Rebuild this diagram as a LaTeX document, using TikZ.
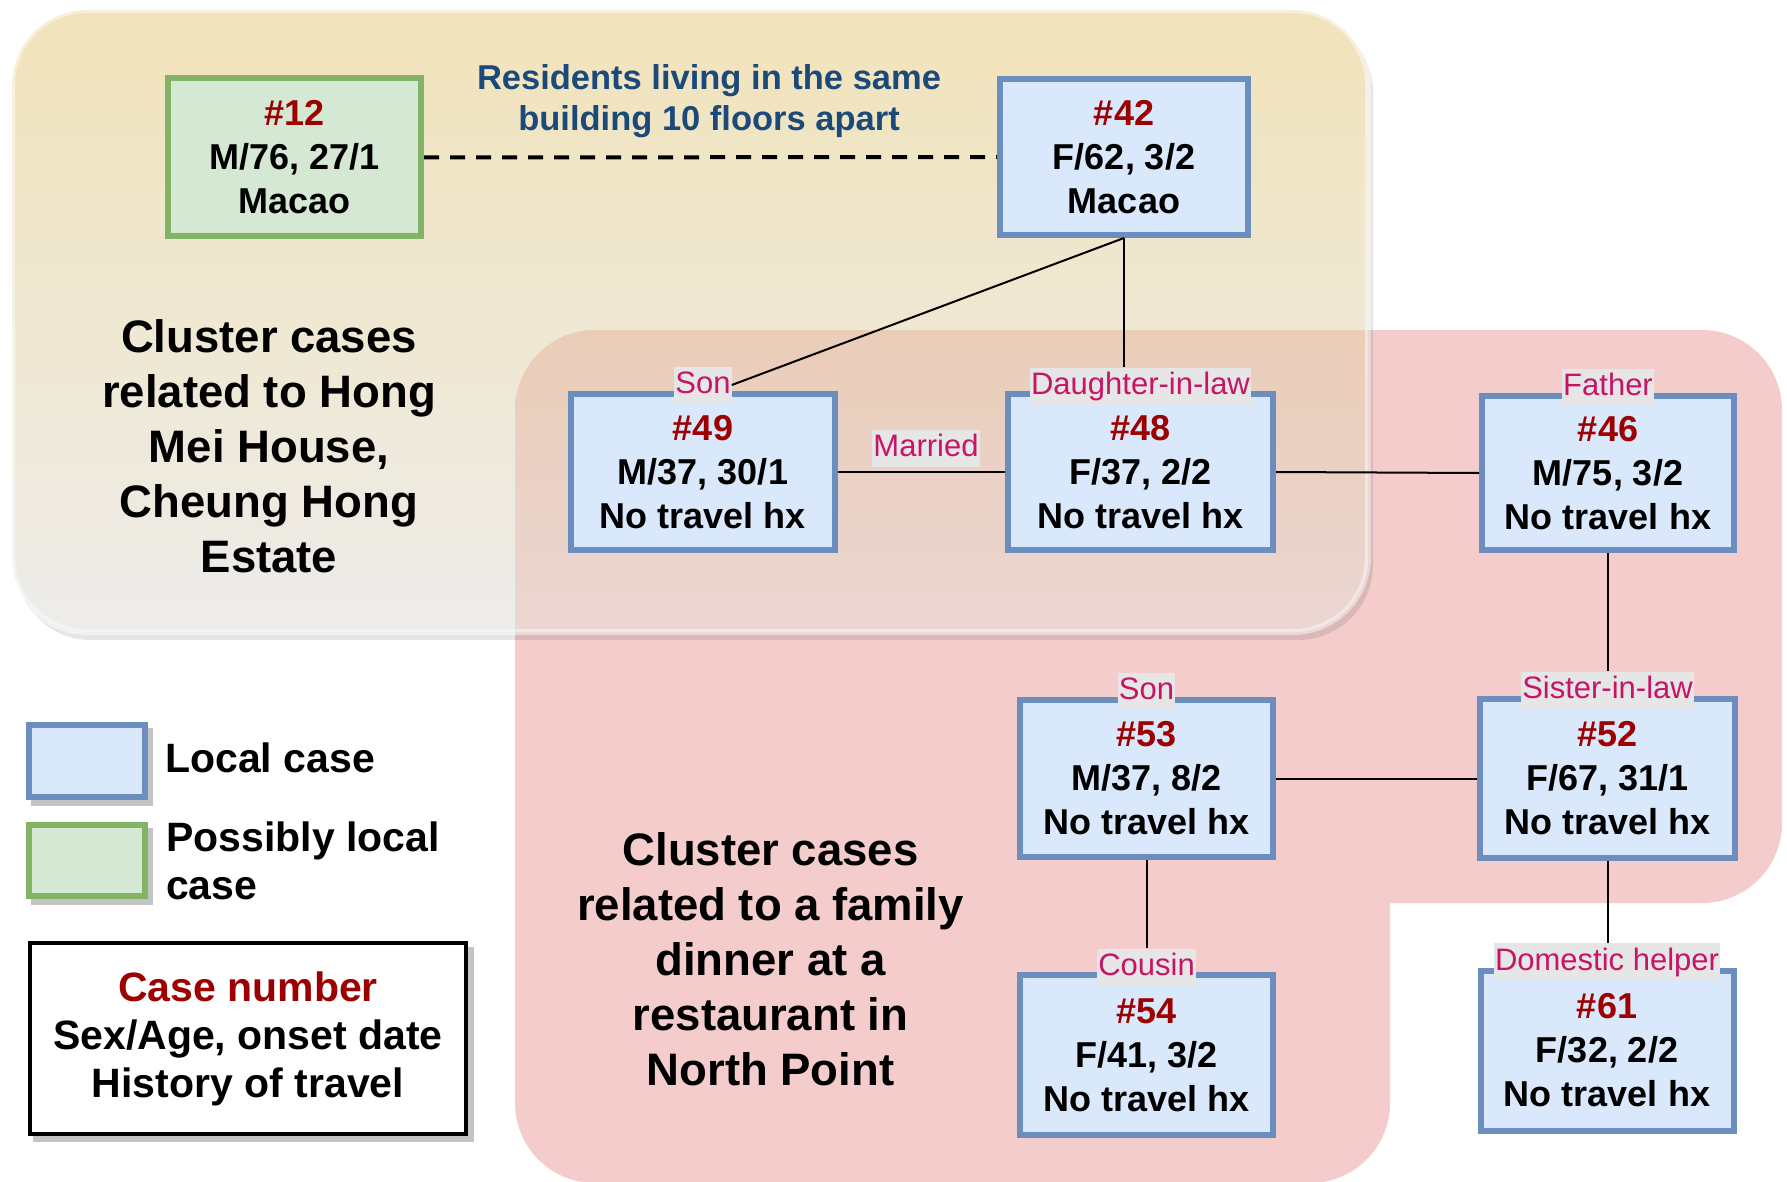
\documentclass[tikz,border=0pt]{standalone}
\usepackage{fontspec}
\setmainfont{Liberation Sans}

\definecolor{localfill}{HTML}{DAE8FC}
\definecolor{localdraw}{HTML}{6C8EBF}
\definecolor{possfill}{HTML}{D5E8D4}
\definecolor{possdraw}{HTML}{82B366}
\definecolor{casered}{HTML}{9C0000}
\definecolor{relcol}{HTML}{C81464}
\definecolor{notecol}{HTML}{1B4A7A}
\definecolor{clusterpink}{HTML}{F4CCCC}
\definecolor{yellowtop}{HTML}{F1E3BA}
\definecolor{yellowbot}{HTML}{EDECEA}
\definecolor{overtop}{HTML}{EACDB7}
\definecolor{overbot}{HTML}{EAD6D3}
\definecolor{relbg}{HTML}{E6E6E6}
\definecolor{shadowgray}{HTML}{C4C4C4}

\newcommand\casefont{\fontsize{36}{44}\selectfont\bfseries}
\newcommand\relfont{\fontsize{31}{36}\selectfont}
\newcommand\clusterfont{\fontsize{45.5}{55}\selectfont\bfseries}
\newcommand\legendfont{\fontsize{41}{48}\selectfont\bfseries}
\newcommand\notefont{\fontsize{34.5}{41}\selectfont\bfseries}
\newcommand\casenum[1]{\textcolor{casered}{\##1}}

\tikzset{
  casebox/.style={draw=localdraw, fill=localfill, line width=6pt, align=center,
    font=\casefont, inner sep=0pt, minimum width=252pt, minimum height=156pt},
  possbox/.style={casebox, draw=possdraw, fill=possfill},
  rel/.style={fill=relbg, text=relcol, font=\relfont, inner xsep=1pt, inner ysep=0pt,
    text height=27pt, text depth=10pt},
  link/.style={line width=2pt, draw=black},
  clustertext/.style={align=center, font=\clusterfont},
}

\begin{document}
\begin{tikzpicture}[x=1pt, y=-1pt]
\useasboundingbox (0,0) rectangle (1787,1182);

% family dinner cluster (pink)
\fill[clusterpink, rounded corners=80pt] (515,330) rectangle (1782,903);
\fill[clusterpink, rounded corners=80pt] (515,600) rectangle (1390,1183);

% Hong Mei House cluster (yellow), with its shadow
\fill[black, opacity=0.10, rounded corners=75pt] (16,17) rectangle (1373,640);
\shade[top color=yellowtop, bottom color=yellowbot, rounded corners=75pt]
  (12,10) rectangle (1368,632);
\begin{scope}
  \clip[rounded corners=80pt] (515,330) rectangle (1782,903);
  \clip[rounded corners=75pt] (12,10) rectangle (1368,632);
  \shade[top color=overtop, bottom color=overbot] (500,320) rectangle (1380,640);
\end{scope}
\draw[white, draw opacity=0.45, line width=6pt, rounded corners=75pt]
  (12,10) rectangle (1368,632);

% cases
\node[possbox, minimum width=253pt, minimum height=158pt] (c12) at (294.5,157.5)
  {\casenum{12}\\M/76, 27/1\\Macao};
\node[casebox, minimum width=248pt] (c42) at (1124,157)
  {\casenum{42}\\F/62, 3/2\\Macao};
\node[casebox, minimum width=264pt] (c49) at (703,472)
  {\casenum{49}\\M/37, 30/1\\No travel hx};
\node[casebox, minimum width=265pt] (c48) at (1140.5,472)
  {\casenum{48}\\F/37, 2/2\\No travel hx};
\node[casebox, minimum height=154pt] (c46) at (1608,473)
  {\casenum{46}\\M/75, 3/2\\No travel hx};
\node[casebox, minimum width=253pt, minimum height=157pt] (c53) at (1146.5,778.5)
  {\casenum{53}\\M/37, 8/2\\No travel hx};
\node[casebox, minimum width=255pt, minimum height=159pt] (c52) at (1607.5,778.5)
  {\casenum{52}\\F/67, 31/1\\No travel hx};
\node[casebox, minimum width=253pt, minimum height=160pt] (c54) at (1146.5,1055)
  {\casenum{54}\\F/41, 3/2\\No travel hx};
\node[casebox, minimum width=253pt, minimum height=160pt] (c61) at (1607,1050.5)
  {\casenum{61}\\F/32, 2/2\\No travel hx};

% relationship labels
\node[rel] (r49) at ([yshift=6pt]c49.north) {Son};
\node[rel] (r48) at ([yshift=5pt]c48.north) {Daughter-in-law};
\node[rel] (r46) at ([yshift=6pt]c46.north) {Father};
\node[rel] (r53) at ([yshift=6pt]c53.north) {Son};
\node[rel] (r52) at ([yshift=6pt]c52.north) {Sister-in-law};
\node[rel] (r54) at ([yshift=5pt]c54.north) {Cousin};
\node[rel] (r61) at ([yshift=6pt]c61.north) {Domestic helper};
\node[rel] (married) at (926,448) {Married};

% links
\draw[line width=4pt, dash pattern=on 15pt off 11pt] (c12.east) -- (c42.west);
\draw[link] (c42.south) -- (r49.east);
\draw[link] (c42.south) -- (c42.south |- r48.north);
\draw[link] (c49.east) -- (c48.west);
\draw[link] (c48.east) -- (c46.west);
\draw[link] (c46.south) -- (c46.south |- r52.north);
\draw[link] (c53.east) -- (c52.west);
\draw[link] (c53.south) -- (c53.south |- r54.north);
\draw[link] (c52.south) -- (c52.south |- r61.north);

% notes
\node[align=center, font=\notefont, text=notecol] (note) at (709,101)
  {Residents living in the same\\building 10 floors apart};
\node[clustertext] (hongmei) at (269,446)
  {Cluster cases\\related to Hong\\Mei House,\\Cheung Hong\\Estate};
\node[clustertext] (dinner) at (770.5,959)
  {Cluster cases\\related to a family\\dinner at a\\restaurant in\\North Point};

% legend
\fill[shadowgray] (31,728) rectangle (153,806);
\node[draw=localdraw, fill=localfill, line width=6pt, minimum width=116pt,
  minimum height=72pt, inner sep=0pt] (keylocal) at (87,761) {};
\fill[shadowgray] (31,828) rectangle (153,905);
\node[draw=possdraw, fill=possfill, line width=6pt, minimum width=116pt,
  minimum height=71pt, inner sep=0pt] (keyposs) at (87,860.5) {};
\node[font=\legendfont, anchor=base west, inner sep=0pt] (keylocaltext) at (165,772)
  {Local case};
\node[font=\legendfont, anchor=west, align=left, inner sep=0pt] (keypossttext) at (166,861)
  {Possibly local\\case};
\fill[shadowgray] (33,947) rectangle (474,1142);
\node[draw=black, fill=white, line width=4pt, minimum width=436pt, minimum height=191pt,
  align=center, font=\legendfont, inner sep=0pt] (keyformat) at (248,1038.5)
  {\textcolor{casered}{Case number}\\Sex/Age, onset date\\History of travel};
\end{tikzpicture}
\end{document}
